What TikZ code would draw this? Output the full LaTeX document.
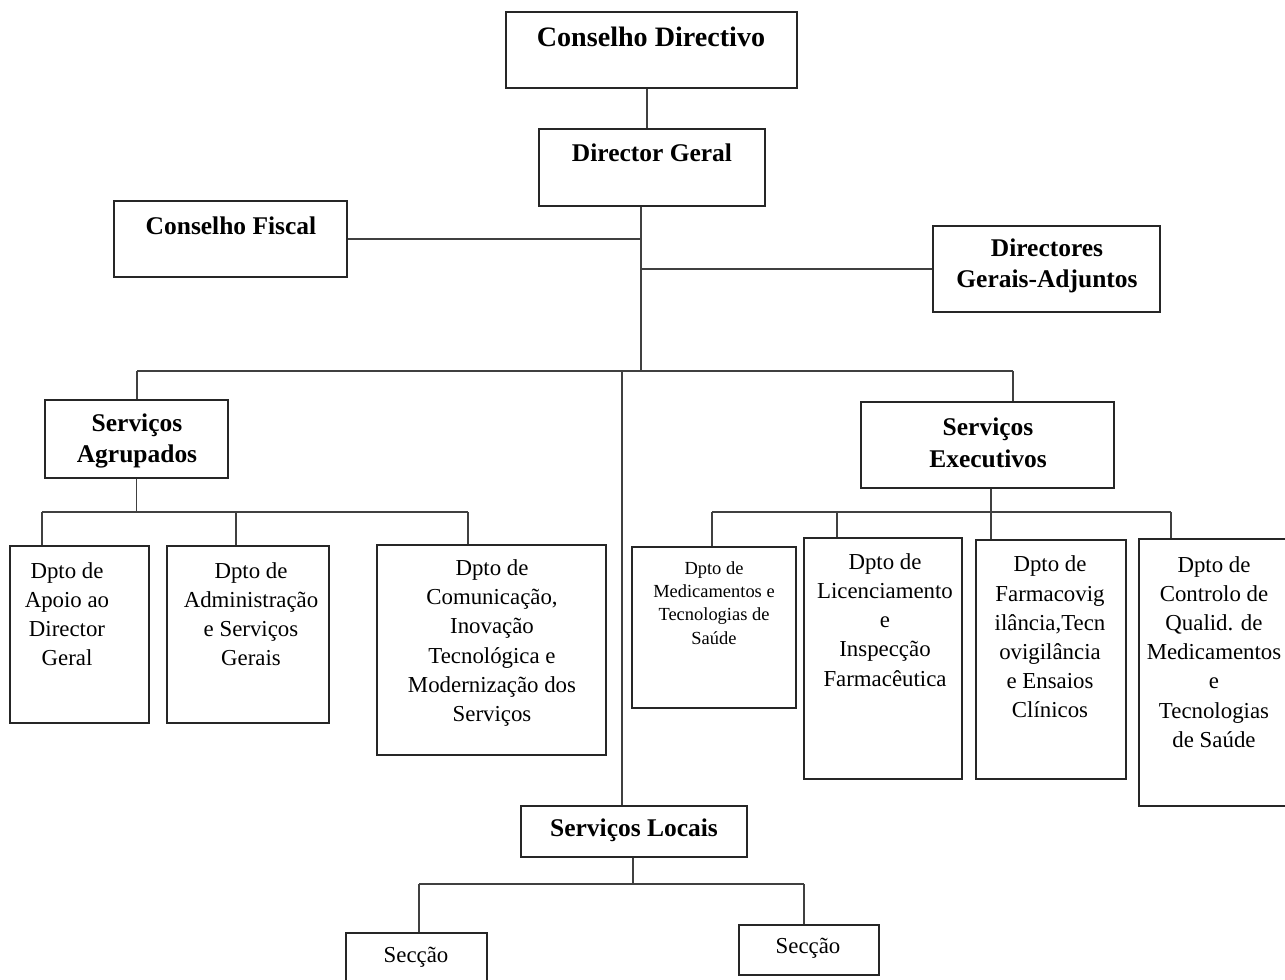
\documentclass[tikz,border=0pt]{standalone}
\usepackage{fontspec}
\setmainfont{Liberation Serif}
\usetikzlibrary{fit}
\tikzset{
  box/.style={draw=black!85, line width=0.9pt, inner sep=0pt, fill=none},
  ln/.style={draw=black!75, line width=0.7pt},
  hdbig/.style={font=\bfseries\fontsize{16}{19}\selectfont, align=center, inner sep=0pt},
  hd/.style={font=\bfseries\fontsize{14.5}{18}\selectfont, align=center, inner sep=0pt},
  tx/.style={font=\fontsize{13}{16.6}\selectfont, align=center, inner sep=0pt},
  sm/.style={font=\fontsize{10.5}{13.2}\selectfont, align=center, inner sep=0pt}
}
\begin{document}
\begin{tikzpicture}[x=0.02cm, y=-0.02cm]
\useasboundingbox (0,0) rectangle (1285,980);
\fill[white] (0,0) rectangle (1285,980);

% boxes
\node[box, fit={(506,12) (797,88)}] (cd) {};
\node[box, fit={(539,129) (765,206)}] (dg) {};
\node[box, fit={(114,201) (347,277)}] (cf) {};
\node[box, fit={(933,226) (1160,312)}] (dga) {};
\node[box, fit={(45,400) (228,478)}] (sa) {};
\node[box, fit={(861,402) (1114,488)}] (se) {};
\node[box, fit={(10,546) (149,723)}] (d1) {};
\node[box, fit={(167,546) (329,723)}] (d2) {};
\node[box, fit={(377,545) (606,755)}] (d3) {};
\node[box, fit={(632,547) (796,708)}] (d4) {};
\node[box, fit={(804,538) (962,779)}] (d5) {};
\node[box, fit={(976,540) (1126,779)}] (d6) {};
\node[box, fit={(1139,539) (1295,806)}] (d7) {};
\node[box, fit={(521,806) (747,857)}] (sl) {};
\node[box, fit={(346,933) (487,995)}] (s1) {};
\node[box, fit={(739,925) (879,975)}] (s2) {};

% texts
\node[hdbig] (cdt) at (651,37) {Conselho Directivo};
\node[hd] (dgt) at (652,153) {Director Geral};
\node[hd] (cft) at (231,226) {Conselho Fiscal};
\node[hd] (dgat) at (1047,266) {Directores\\Gerais-Adjuntos};
\node[hd] (sat) at (137,441) {Serviços\\Agrupados};
\node[hd] (set) at (988,443) {Serviços\\Executivos};
\node[tx] (d1t) at (67,614) {Dpto de\\Apoio ao\\Director\\Geral};
\node[tx] (d2t) at (251,614) {Dpto de\\Administração\\e Serviços\\Gerais};
\node[tx] (d3t) at (492,643) {Dpto de\\Comunicação,\\Inovação\\Tecnológica e\\Modernização dos\\Serviços};
\node[sm] (d4t) at (714,603) {Dpto de\\Medicamentos e\\Tecnologias de\\Saúde};
\node[tx] (d5t) at (885,620) {Dpto de\\Licenciamento\\e\\Inspecção\\Farmacêutica};
\node[tx] (d6t) at (1050,637) {Dpto de\\Farmacovig\\ilância,Tecn\\ovigilância\\e Ensaios\\Clínicos};
\node[tx] (d7t) at (1214,652) {Dpto de\\Controlo de\\Qualid. de\\Medicamentos\\e\\Tecnologias\\de Saúde};
\node[hd] (slt) at (634,830) {Serviços Locais};
\node[tx] (s1t) at (416,957) {Secção};
\node[tx] (s2t) at (808,948) {Secção};

% junction coordinates
\coordinate (k0) at (647,0);
\coordinate (tr) at (641,0);
\coordinate (bL) at (137,371);
\coordinate (bR) at (1013,371);
\coordinate (bM) at (622,371);
\coordinate (aL) at (42,512);
\coordinate (aM) at (236,512);
\coordinate (aR) at (468,512);
\coordinate (eL) at (712,512);
\coordinate (e2) at (837,512);
\coordinate (e3) at (991,512);
\coordinate (eR) at (1171,512);
\coordinate (lC) at (633,884);
\coordinate (lL) at (419,884);
\coordinate (lR) at (804,884);

% connectors
\draw[ln] (k0 |- cd.south) -- (k0 |- dg.north);
\draw[ln] (tr |- dg.south) -- (tr |- bL);
\draw[ln] (cf.east) -- (cf.east -| tr);
\draw[ln] (dga.west) -- (dga.west -| tr);
\draw[ln] (bL) -- (bR);
\draw[ln] (bL) -- (bL |- sa.north);
\draw[ln] (bR) -- (bR |- se.north);
\draw[ln] (bM) -- (bM |- sl.north);

\draw[ln] (sa.south) -- (sa.south |- aL);
\draw[ln] (aL) -- (aR);
\draw[ln] (aL) -- (aL |- d1.north);
\draw[ln] (aM) -- (aM |- d2.north);
\draw[ln] (aR) -- (aR |- d3.north);

\draw[ln] (e3 |- se.south) -- (e3);
\draw[ln] (eL) -- (eR);
\draw[ln] (eL) -- (eL |- d4.north);
\draw[ln] (e2) -- (e2 |- d5.north);
\draw[ln] (e3) -- (e3 |- d6.north);
\draw[ln] (eR) -- (eR |- d7.north);

\draw[ln] (lC |- sl.south) -- (lC);
\draw[ln] (lL) -- (lR);
\draw[ln] (lL) -- (lL |- s1.north);
\draw[ln] (lR) -- (lR |- s2.north);
\end{tikzpicture}
\end{document}
